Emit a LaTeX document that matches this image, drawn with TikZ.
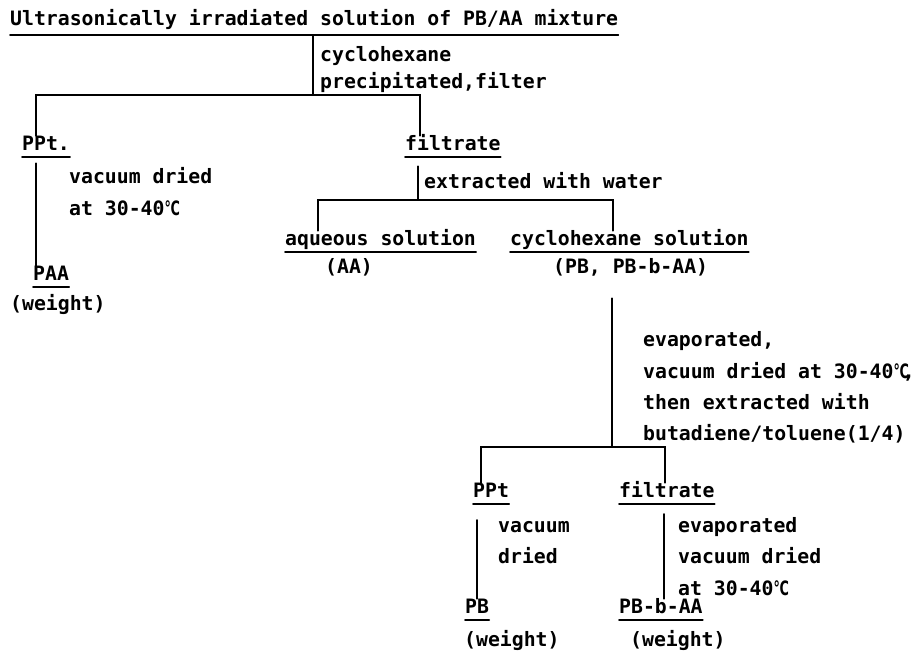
\documentclass[tikz,border=0pt]{standalone}
\usepackage{graphicx}
\usepackage{fontspec}
\setmonofont{DejaVu Sans Mono}
\newfontfamily\degfont{DejaVu Sans}
\usetikzlibrary{positioning}
\newcommand{\degC}{{\degfont\scalebox{0.64}[1]{℃}}}
\tikzset{
  lbl/.style={font=\ttfamily\bfseries\fontsize{19.8}{22}\selectfont,inner sep=0pt,anchor=west,text height=14pt,text depth=4pt},
  link/.style={line width=1.6pt,line cap=round},
  every picture/.style={x=1pt,y=-1pt}
}
\begin{document}
\begin{tikzpicture}
  \path[fill=white,use as bounding box] (0,0) rectangle (916,665);
  % texts
  \node[lbl] (title) at (10,20) {Ultrasonically irradiated solution of PB/AA mixture};
  \node[lbl] (cyc1) at (320,56) {cyclohexane};
  \node[lbl] (prec) at (320,83) {precipitated,filter};
  \node[lbl] (ppt1) at (22,145) {PPt.};
  \node[lbl] (vac1) at (69,178) {vacuum dried};
  \node[lbl] (at1) at (69,210) {at 30-40\degC};
  \node[lbl] (paa) at (33,275) {PAA};
  \node[lbl] (wt1) at (10,305) {(weight)};
  \node[lbl] (filt1) at (405,145) {filtrate};
  \node[lbl] (extr) at (424,183) {extracted with water};
  \node[lbl] (aq) at (285,240) {aqueous solution};
  \node[lbl] (aa) at (325,268) {(AA)};
  \node[lbl] (cys) at (510,240) {cyclohexane solution};
  \node[lbl] (pbmix) at (553,268) {(PB, PB-b-AA)};
  \node[lbl] (evap1) at (643,341) {evaporated,};
  \node[lbl] (vac2) at (643,373) {vacuum dried at 30-40\degC\kern-0.3em,};
  \node[lbl] (then1) at (643,404) {then extracted with};
  \node[lbl] (buta) at (643,435) {butadiene/toluene(1/4)};
  \node[lbl] (ppt2) at (473,492) {PPt};
  \node[lbl] (filt2) at (619,492) {filtrate};
  \node[lbl] (vac3) at (498,527) {vacuum};
  \node[lbl] (dried3) at (498,558) {dried};
  \node[lbl] (evap2) at (678,527) {evaporated};
  \node[lbl] (vac4) at (678,558) {vacuum dried};
  \node[lbl] (at4) at (678,590) {at 30-40\degC};
  \node[lbl] (pb) at (465,608) {PB};
  \node[lbl] (pbb) at (619,608) {PB-b-AA};
  \node[lbl] (wt2) at (464,641) {(weight)};
  \node[lbl] (wt3) at (630,641) {(weight)};
  % underlines
  \draw[link] ([yshift=-6pt]title.south west) -- ([yshift=-6pt]title.south east);
  \foreach \n in {ppt1,paa,filt1,aq,cys,ppt2,filt2,pb,pbb}
    \draw[link] ([yshift=-3pt]\n.south west) -- ([yshift=-3pt]\n.south east);
  % junctions
  \coordinate (t0) at (313,35);
  \coordinate (s1) at (313,95);
  \coordinate (s1l) at (36,95);
  \coordinate (s1r) at (420,95);
  \coordinate (s2) at (418,200);
  \coordinate (s2l) at (318,200);
  \coordinate (s2r) at (613,200);
  \coordinate (s3) at (612,447);
  \coordinate (s3l) at (481,447);
  \coordinate (s3r) at (665,447);
  \coordinate (d1) at (477,520);
  \coordinate (d2) at (664,514);
  % tree
  \draw[link] (t0) -- (s1);
  \draw[link] (s1l |- ppt1.north) -- (s1l) -- (s1r) -- (s1r |- filt1.north);
  \draw[link] (s1l |- ppt1.south) ++(0,9) -- (s1l |- paa.north);
  \draw[link] (s2 |- filt1.south) ++(0,12) -- (s2);
  \draw[link] (s2l |- aq.north) -- (s2l) -- (s2r) -- (s2r |- cys.north);
  \draw[link] (s3 |- pbmix.south) ++(0,21) -- (s3);
  \draw[link] (s3l |- ppt2.north) -- (s3l) -- (s3r) -- (s3r |- filt2.north);
  \draw[link] (d1) -- (d1 |- pb.north);
  \draw[link] (d2) -- (d2 |- pbb.north);
\end{tikzpicture}
\end{document}
